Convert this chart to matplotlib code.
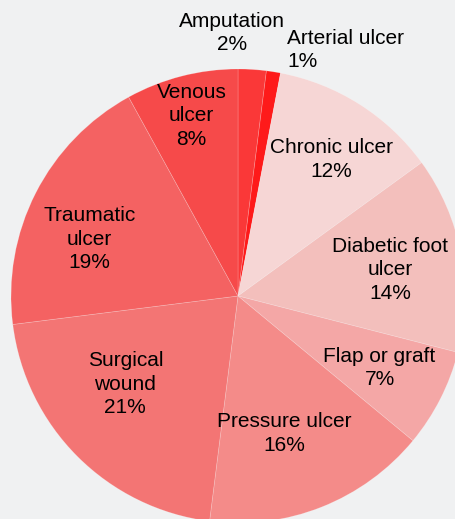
import numpy as np
import matplotlib.pyplot as plt

plt.rcParams['font.family'] = ['Liberation Sans', 'DejaVu Sans']

categories = ['Amputation', 'Arterial ulcer', 'Chronic ulcer', 'Diabetic foot\nulcer',
              'Flap or graft', 'Pressure ulcer', 'Surgical\nwound', 'Traumatic\nulcer',
              'Venous\nulcer']
shares = [2, 1, 12, 14, 7, 16, 21, 19, 8]
colors = ['#FA3838', '#FE1A1A', '#F6D6D5', '#F3BFBC', '#F4A7A6',
          '#F48B89', '#F37574', '#F46262', '#F64A4A']

# label placement: distance from centre (in radii), angle nudge (deg), alignment
label_dist = [1.16, 1.105, 0.73, 0.68, 0.70, 0.64, 0.63, 0.70, 0.82]
label_nudge = [5, -2.3, -2, -1, 0, -3, -7, 6, 0]
label_ha = ['center', 'left', 'center', 'center', 'center', 'center', 'center', 'center', 'center']

W, H = 456, 519
cx, cy, R = 238, 296, 227

fig = plt.figure(figsize=(W / 100, H / 100), dpi=100)
fig.patch.set_facecolor('#F0F1F2')
ax = fig.add_axes([0, 0, 1, 1])
ax.set_facecolor('#F0F1F2')

wedges, _ = ax.pie(shares, colors=colors, startangle=90, counterclock=False,
                   radius=1.0, wedgeprops=dict(linewidth=0.5, edgecolor=(1, 1, 1, 0.25)))

total = sum(shares)
cum = np.cumsum([0] + shares[:-1])
for i, (name, v) in enumerate(zip(categories, shares)):
    mid = 90 - 360 * (cum[i] + v / 2) / total + label_nudge[i]
    a = np.deg2rad(mid)
    x, y = label_dist[i] * np.cos(a), label_dist[i] * np.sin(a)
    ax.text(x, y, f'{name}\n{v}%', ha=label_ha[i], va='center', fontsize=15,
            color='#000000', linespacing=1.3, multialignment=label_ha[i])

ax.set_xlim(-cx / R, (W - cx) / R)
ax.set_ylim((cy - H) / R, cy / R)
ax.set_aspect('auto')
ax.axis('off')

fig.savefig('out.png', dpi=100, facecolor=fig.get_facecolor())
